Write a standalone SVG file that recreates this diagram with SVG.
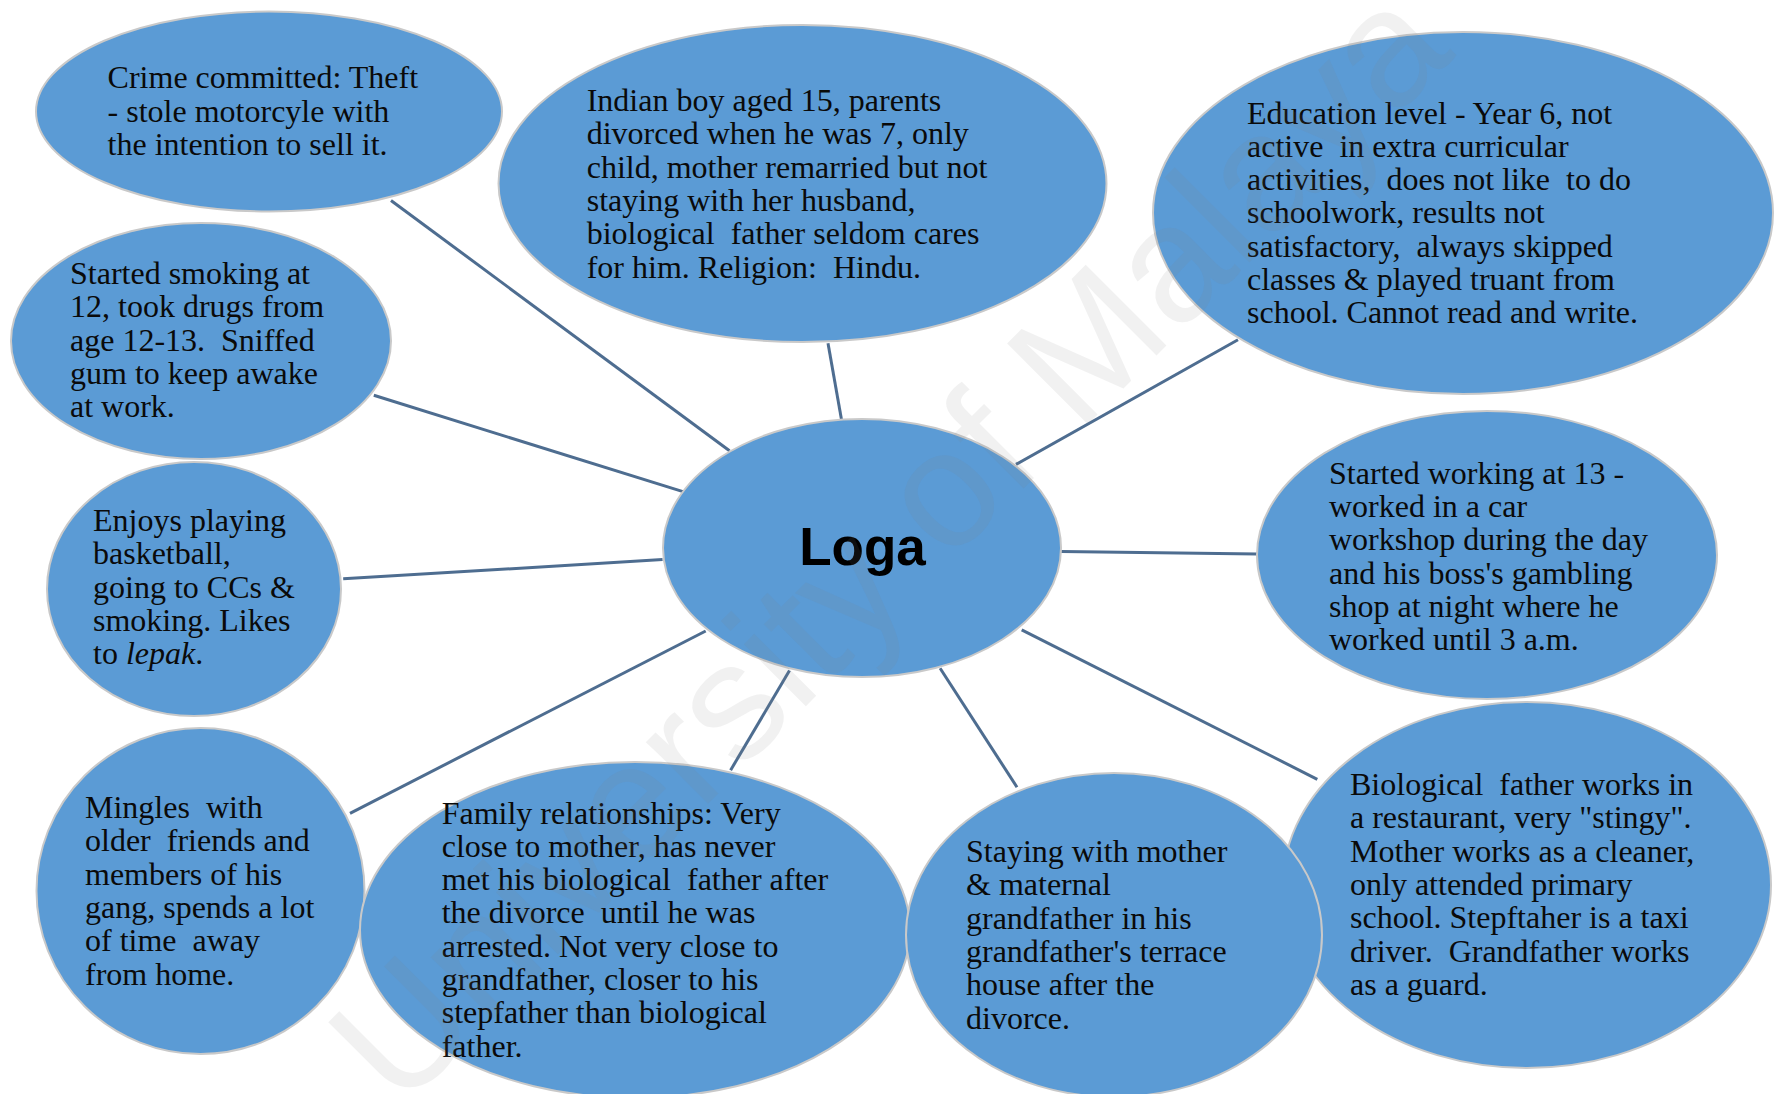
<svg xmlns="http://www.w3.org/2000/svg" width="1776" height="1094" viewBox="0 0 1776 1094">
<style>
.node ellipse{fill:#5b9bd5;stroke:#c9c9c9;stroke-width:2}
.t{font-family:"Liberation Serif","Times New Roman",serif;font-size:32px;fill:#0a0a0a;white-space:pre}
.c{font-family:"Liberation Sans",Arial,sans-serif;font-size:53px;font-weight:bold;fill:#000;text-anchor:middle}
.conn line{stroke:#4e6d90;stroke-width:3}
.wm{font-family:"Liberation Sans",Arial,sans-serif;font-size:166px;fill:#7f7f7f;fill-opacity:0.11}
</style>
<rect width="1776" height="1094" fill="#fff"/>
<g id="connectors" class="conn">
<line x1="391" y1="200.5" x2="729.5" y2="450.8"/>
<line x1="373.8" y1="395.3" x2="683" y2="491.6"/>
<line x1="343.2" y1="578.8" x2="662.6" y2="559.6"/>
<line x1="350" y1="813.3" x2="705.7" y2="631"/>
<line x1="730.6" y1="770.2" x2="789.5" y2="670.6"/>
<line x1="1017" y1="787.2" x2="940.1" y2="668.3"/>
<line x1="1317.3" y1="779.3" x2="1021.7" y2="629.8"/>
<line x1="1257.3" y1="553.9" x2="1061.3" y2="551.6"/>
<line x1="1238" y1="339.8" x2="1016" y2="464.4"/>
<line x1="828" y1="343.2" x2="841.6" y2="420.2"/>
</g>
<g id="node-crime" class="node">
<ellipse cx="269" cy="111.5" rx="233" ry="100"/>
<text class="t"><tspan x="107.6" y="88.4">Crime committed: Theft</tspan><tspan x="107.6" y="121.7">- stole motorcyle with</tspan><tspan x="107.6" y="155">the intention to sell it.</tspan></text>
</g>
<g id="node-indian" class="node">
<ellipse cx="802.5" cy="183.5" rx="304" ry="158.6"/>
<text class="t"><tspan x="586.7" y="111">Indian boy aged 15, parents</tspan><tspan x="586.7" y="144.3">divorced when he was 7, only</tspan><tspan x="586.7" y="177.6">child, mother remarried but not</tspan><tspan x="586.7" y="210.9">staying with her husband,</tspan><tspan x="586.7" y="244.2">biological  father seldom cares</tspan><tspan x="586.7" y="277.5">for him. Religion:  Hindu.</tspan></text>
</g>
<g id="node-education" class="node">
<ellipse cx="1463" cy="213" rx="310" ry="181"/>
<text class="t"><tspan x="1247" y="123.5">Education level - Year 6, not</tspan><tspan x="1247" y="156.8">active  in extra curricular</tspan><tspan x="1247" y="190.1">activities,  does not like  to do</tspan><tspan x="1247" y="223.4">schoolwork, results not</tspan><tspan x="1247" y="256.7">satisfactory,  always skipped</tspan><tspan x="1247" y="290">classes &amp; played truant from</tspan><tspan x="1247" y="323.3">school. Cannot read and write.</tspan></text>
</g>
<g id="node-smoking" class="node">
<ellipse cx="201" cy="341" rx="190" ry="118"/>
<text class="t"><tspan x="70" y="284">Started smoking at</tspan><tspan x="70" y="317.3">12, took drugs from</tspan><tspan x="70" y="350.6">age 12-13.  Sniffed</tspan><tspan x="70" y="383.9">gum to keep awake</tspan><tspan x="70" y="417.2">at work.</tspan></text>
</g>
<g id="node-enjoys" class="node">
<ellipse cx="194" cy="589" rx="147" ry="127"/>
<text class="t"><tspan x="93" y="531">Enjoys playing</tspan><tspan x="93" y="564.3">basketball,</tspan><tspan x="93" y="597.6">going to CCs &amp;</tspan><tspan x="93" y="630.9">smoking. Likes</tspan><tspan x="93" y="664.2">to <tspan font-style="italic">lepak</tspan>.</tspan></text>
</g>
<g id="node-working" class="node">
<ellipse cx="1487" cy="555" rx="230" ry="144"/>
<text class="t"><tspan x="1329" y="483.6">Started working at 13 -</tspan><tspan x="1329" y="516.9">worked in a car</tspan><tspan x="1329" y="550.2">workshop during the day</tspan><tspan x="1329" y="583.5">and his boss's gambling</tspan><tspan x="1329" y="616.8">shop at night where he</tspan><tspan x="1329" y="650.1">worked until 3 a.m.</tspan></text>
</g>
<g id="node-biological" class="node">
<ellipse cx="1527" cy="885" rx="244" ry="183"/>
<text class="t"><tspan x="1350" y="795">Biological  father works in</tspan><tspan x="1350" y="828.3">a restaurant, very "stingy".</tspan><tspan x="1350" y="861.6">Mother works as a cleaner,</tspan><tspan x="1350" y="894.9">only attended primary</tspan><tspan x="1350" y="928.2">school. Stepftaher is a taxi</tspan><tspan x="1350" y="961.5">driver.  Grandfather works</tspan><tspan x="1350" y="994.8">as a guard.</tspan></text>
</g>
<g id="node-mingles" class="node">
<ellipse cx="200.5" cy="891" rx="164" ry="163"/>
<text class="t"><tspan x="85" y="818">Mingles  with</tspan><tspan x="85" y="851.3">older  friends and</tspan><tspan x="85" y="884.6">members of his</tspan><tspan x="85" y="917.9">gang, spends a lot</tspan><tspan x="85" y="951.2">of time  away</tspan><tspan x="85" y="984.5">from home.</tspan></text>
</g>
<g id="node-family" class="node">
<ellipse cx="635" cy="930" rx="275" ry="168"/>
<text class="t"><tspan x="441.7" y="823.5">Family relationships: Very</tspan><tspan x="441.7" y="856.8">close to mother, has never</tspan><tspan x="441.7" y="890.1">met his biological  father after</tspan><tspan x="441.7" y="923.4">the divorce  until he was</tspan><tspan x="441.7" y="956.7">arrested. Not very close to</tspan><tspan x="441.7" y="990">grandfather, closer to his</tspan><tspan x="441.7" y="1023.3">stepfather than biological</tspan><tspan x="441.7" y="1056.6">father.</tspan></text>
</g>
<g id="node-staying" class="node">
<ellipse cx="1114" cy="935" rx="208" ry="162"/>
<text class="t"><tspan x="966" y="862">Staying with mother</tspan><tspan x="966" y="895.3">&amp; maternal</tspan><tspan x="966" y="928.6">grandfather in his</tspan><tspan x="966" y="961.9">grandfather's terrace</tspan><tspan x="966" y="995.2">house after the</tspan><tspan x="966" y="1028.5">divorce.</tspan></text>
</g>
<g id="node-loga" class="node">
<ellipse cx="862" cy="548" rx="199" ry="129"/>
<text class="c" x="862.5" y="565">Loga</text>
</g>
<text class="wm" transform="translate(400 1112) rotate(-45)" x="0" y="0">University of Malaya</text>
</svg>
